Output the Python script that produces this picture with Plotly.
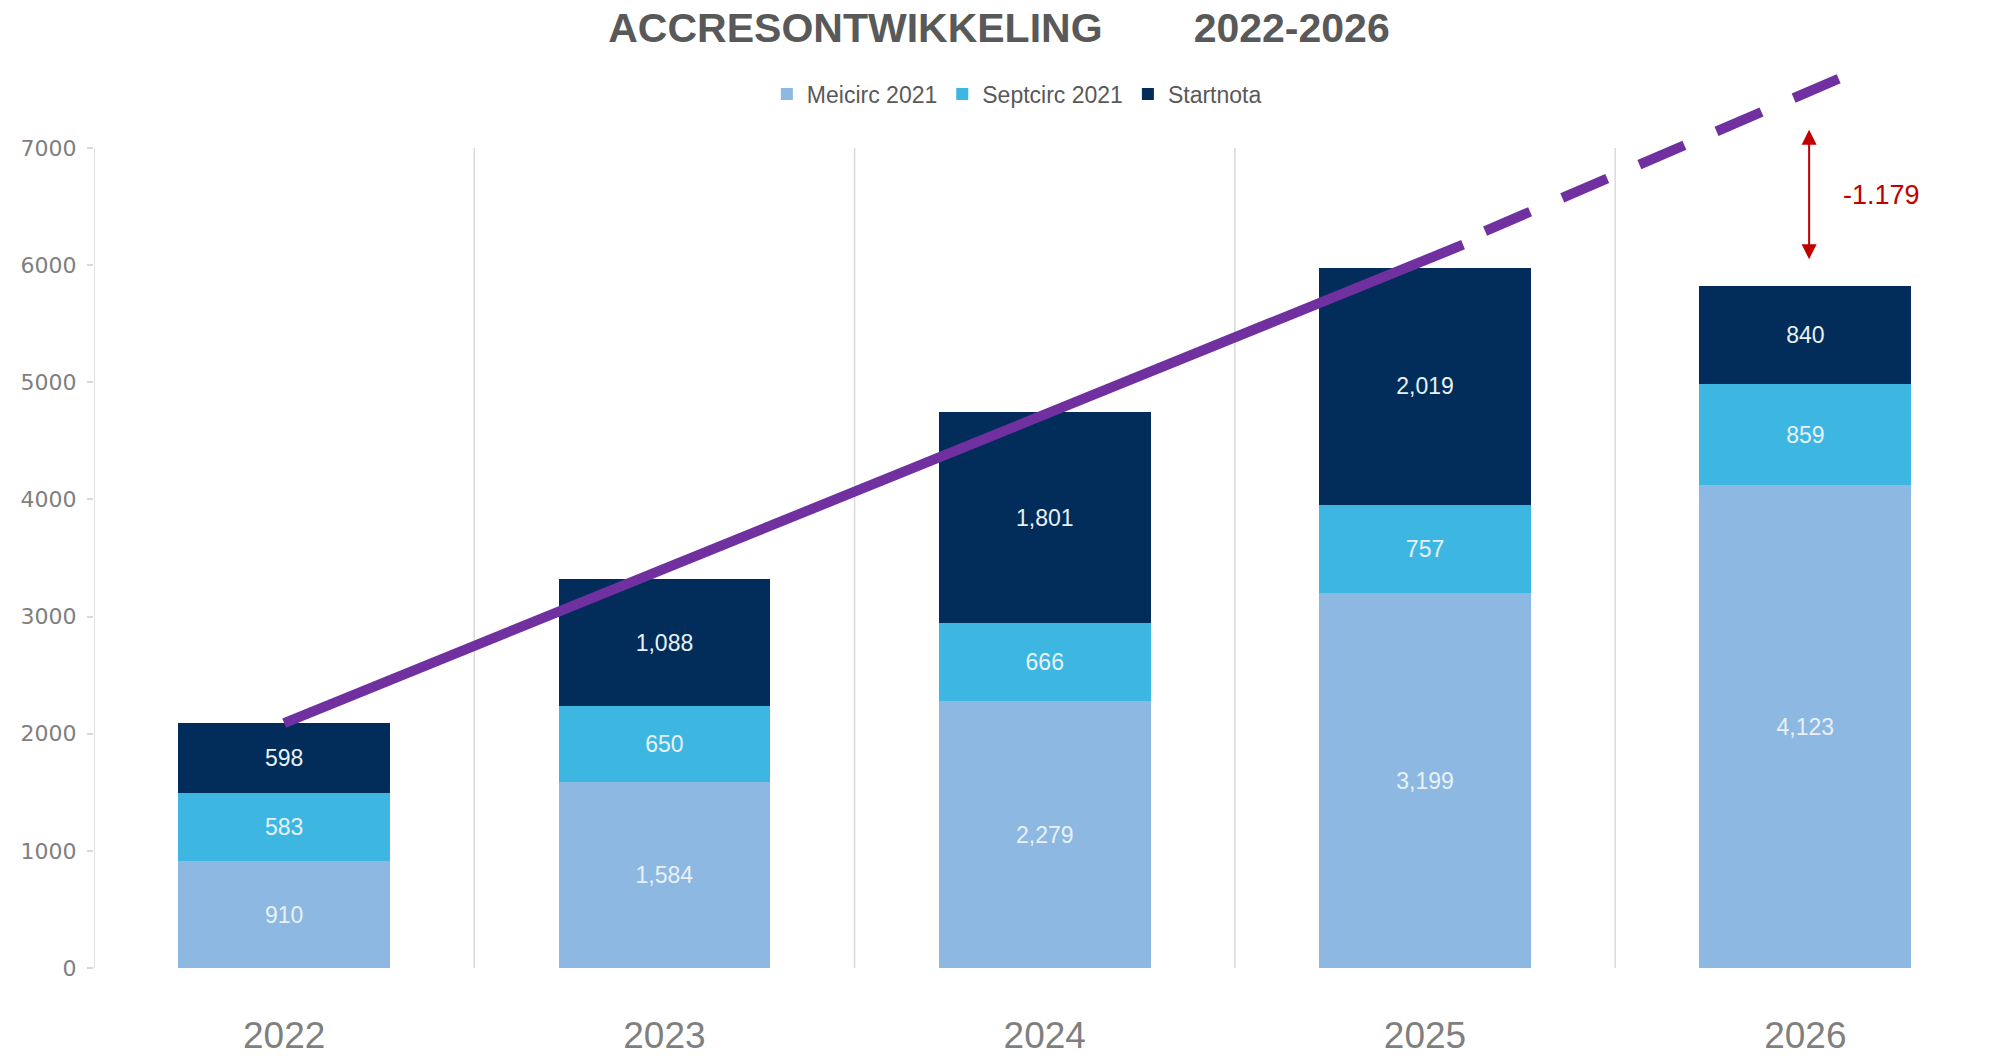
import plotly.graph_objects as go

# ---- data ----
years = [2022, 2023, 2024, 2025, 2026]
meicirc = [910, 1584, 2279, 3199, 4123]
septcirc = [583, 650, 666, 757, 859]
startnota = [598, 1088, 1801, 2019, 840]

series_names = ["Meicirc 2021", "Septcirc 2021", "Startnota"]
series_colors = ["#8DB8E2", "#3DB7E1", "#022D5A"]

# trend line: solid part then dashed part
trend_solid_x = [2022.0, 2025.10]
trend_solid_y = [2091, 6174]
trend_dash_x = [2025.158, 2026.094]
trend_dash_y = [6290, 7600]

gap_label = "-1.179"
gap_arrow_x = 2026.01
gap_arrow_y = [6038, 7156]

y_ticks = [0, 1000, 2000, 3000, 4000, 5000, 6000, 7000]

# page body has an 8px margin: figure is sized/offset to compensate
OFF = 8
W, H = 1989 - OFF, 1056 - OFF

fig = go.Figure()

for name, vals, col in zip(series_names, [meicirc, septcirc, startnota], series_colors):
    fig.add_trace(go.Bar(
        x=years, y=vals, name=name, marker=dict(color=col, line=dict(width=0)),
        texttemplate="%{y:,}", textposition="inside", insidetextanchor="middle",
        textangle=0, constraintext="none",
        textfont=dict(family="Liberation Sans, Arial", size=23, color="#E8F1F6"),
    ))

fig.add_trace(go.Scatter(
    x=trend_solid_x, y=trend_solid_y, mode="lines", showlegend=False,
    line=dict(color="#7030A0", width=10),
))
fig.add_trace(go.Scatter(
    x=trend_dash_x, y=trend_dash_y, mode="lines", showlegend=False,
    line=dict(color="#7030A0", width=10, dash="49px,35px"),
))

shapes = []
for i in range(len(years) - 1):
    xb = (years[i] + years[i + 1]) / 2
    shapes.append(dict(type="line", xref="x", yref="y", x0=xb, x1=xb, y0=0, y1=y_ticks[-1],
                       line=dict(color="#D9D9D9", width=1.5), layer="below"))
shapes.append(dict(type="line", xref="x", yref="y", x0=years[0] - 0.5, x1=years[0] - 0.5,
                   y0=0, y1=y_ticks[-1], line=dict(color="#D9D9D9", width=1.5), layer="below"))

annotations = [
    dict(x=gap_arrow_x, y=gap_arrow_y[1], ax=gap_arrow_x, ay=gap_arrow_y[0],
         xref="x", yref="y", axref="x", ayref="y", text="", showarrow=True,
         arrowhead=2, startarrowhead=2, arrowside="end+start", arrowsize=1.5,
         startarrowsize=1.5, arrowwidth=2, arrowcolor="#C00000"),
    dict(x=2026.20, y=6600, xref="x", yref="y", text=gap_label, showarrow=False,
         font=dict(family="Liberation Sans, Arial", size=27, color="#C00000")),
]

fig.update_layout(
    width=W, height=H,
    margin=dict(l=94 - OFF, r=0, t=60 - OFF, b=88),
    paper_bgcolor="white", plot_bgcolor="white",
    barmode="stack", bargap=0.443,
    title=dict(
        text="ACCRESONTWIKKELING" + "\u00a0" * 8 + "2022-2026",
        x=(999 - OFF) / W, xanchor="center", xref="container",
        y=1 - (28 - OFF) / H, yanchor="middle",
        font=dict(family="Liberation Sans, Arial", size=41, color="#595959", weight="bold"),
    ),
    legend=dict(
        orientation="h", x=0.487, xanchor="center", y=0.9626, yanchor="middle",
        font=dict(family="Liberation Sans, Arial", size=23, color="#595959"),
        bgcolor="rgba(0,0,0,0)", itemwidth=30, traceorder="normal",
    ),
    xaxis=dict(
        range=[years[0] - 0.5, years[-1] + 0.483], tickvals=years,
        ticktext=[str(y) for y in years], showgrid=False, zeroline=False, showline=False,
        ticks="", ticklabelstandoff=42, automargin=False,
        tickfont=dict(family="Liberation Sans, Arial", size=37, color="#7F7F7F"),
    ),
    yaxis=dict(
        range=[0, 7751], tickvals=y_ticks, showgrid=False, zeroline=False, showline=False,
        ticks="outside", ticklen=6, tickcolor="#D9D9D9", tickwidth=1.5,
        ticklabelstandoff=6, automargin=False,
        tickfont=dict(family="DejaVu Sans", size=22, color="#7F7F7F"),
    ),
    shapes=shapes, annotations=annotations, showlegend=True,
)

fig.write_html("out.html")
